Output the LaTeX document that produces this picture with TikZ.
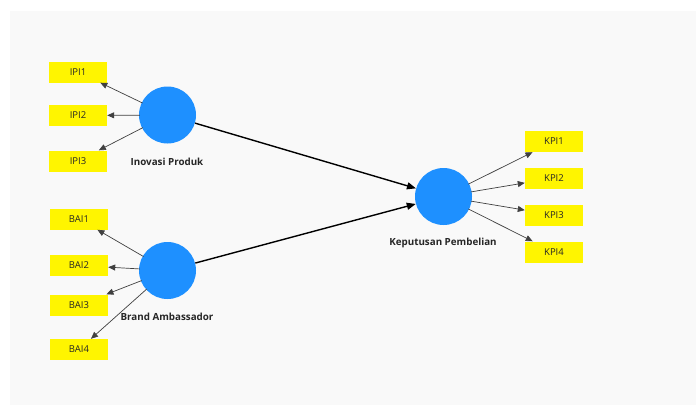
\documentclass[tikz,border=0pt]{standalone}
\usepackage{fontspec}
\setmainfont{Open Sans}
\usetikzlibrary{arrows.meta}
\definecolor{lvblue}{RGB}{30,144,255}
\definecolor{indyellow}{RGB}{255,245,0}
\definecolor{panelgray}{RGB}{249,249,249}
\tikzset{
  ind/.style={fill=indyellow, draw=none, minimum width=58pt, minimum height=21pt, inner sep=0pt, font=\fontsize{9.5}{11}\selectfont, text=black!85},
  lv/.style={circle, fill=lvblue, draw=none, minimum size=57pt, inner sep=0pt},
  lvlabel/.style={font=\bfseries\fontsize{9.8}{11}\selectfont, text=black!85},
  load/.style={draw=black!75, line width=0.7pt, -{Triangle[length=7pt,width=6pt]}, shorten <=-1pt},
  path/.style={draw=black, line width=1.4pt, -{Triangle[length=9pt,width=7pt]}}
}
\begin{document}
\begin{tikzpicture}[x=1pt,y=-1pt]
\useasboundingbox (0,0) rectangle (696,407);
\fill[white] (0,0) rectangle (696,407);
\fill[panelgray] (10,11) rectangle (696,405);

\node[lv] (IP) at (167.5,115) {};
\node[lv] (BA) at (167.5,270.5) {};
\node[lv] (KP) at (443.5,196.5) {};

\node[lvlabel] (IPl) at (167,162) {Inovasi Produk};
\node[lvlabel] (BAl) at (167,317) {Brand Ambassador};
\node[lvlabel] (KPl) at (443,243) {Keputusan Pembelian};

\node[ind] (IPI1) at (78,72) {IPI1};
\node[ind] (IPI2) at (78,115.5) {IPI2};
\node[ind] (IPI3) at (78,161) {IPI3};

\node[ind] (BAI1) at (79,219) {BAI1};
\node[ind] (BAI2) at (79,265.5) {BAI2};
\node[ind] (BAI3) at (79,305) {BAI3};
\node[ind] (BAI4) at (79,349.5) {BAI4};

\node[ind] (KPI1) at (554,141.5) {KPI1};
\node[ind] (KPI2) at (554,178) {KPI2};
\node[ind] (KPI3) at (554,215) {KPI3};
\node[ind] (KPI4) at (554,252) {KPI4};

\draw[load] (IP) -- (IPI1);
\draw[load] (IP) -- (IPI2);
\draw[load] (IP) -- (IPI3);

\draw[load] (BA) -- (BAI1);
\draw[load] (BA) -- (BAI2);
\draw[load] (BA) -- (BAI3);
\draw[load] (BA) -- (BAI4);

\draw[load] (KP) -- (KPI1);
\draw[load] (KP) -- (KPI2);
\draw[load] (KP) -- (KPI3);
\draw[load] (KP) -- (KPI4);

\draw[path] (IP) -- (KP);
\draw[path] (BA) -- (KP);
\end{tikzpicture}
\end{document}
